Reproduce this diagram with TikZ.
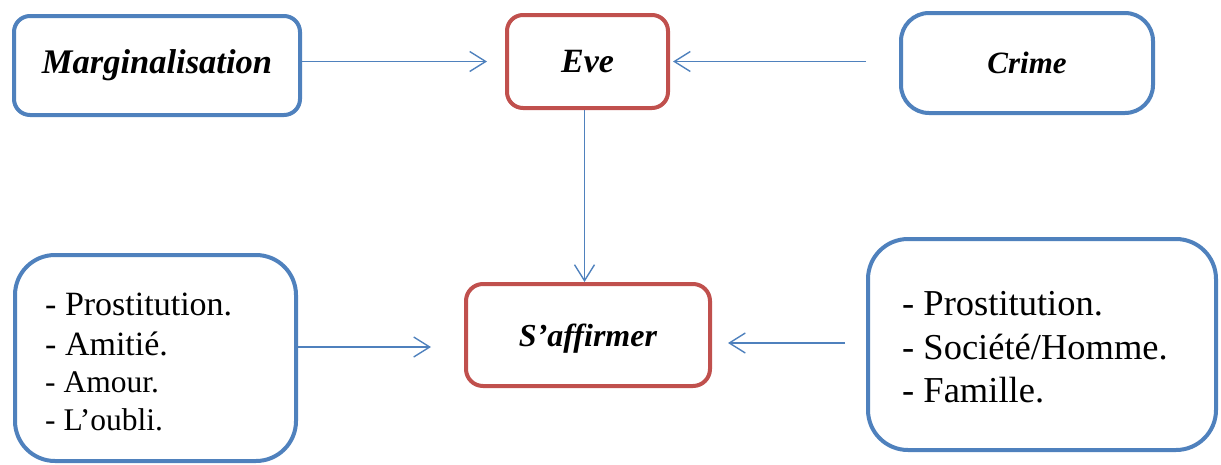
\documentclass[tikz,border=0pt]{standalone}
\usepackage{fontspec}
\setmainfont{Liberation Serif}
\usetikzlibrary{arrows.meta}

\definecolor{boxblue}{HTML}{4F81BD}
\definecolor{boxred}{HTML}{C0504D}

\tikzset{
  box/.style={draw, rectangle, line width=4pt, inner sep=0pt, fill=white},
  bluebox/.style={box, draw=boxblue},
  redbox/.style={box, draw=boxred},
  title/.style={font=\fontsize{#1}{#1}\selectfont\bfseries\itshape},
  item/.style={anchor=base west, inner sep=0pt, font=\fontsize{#1}{#1}\selectfont},
  link/.style={draw=boxblue, line width=1.4pt,
    -{Straight Barb[length=16pt,width=20pt]}},
}

\begin{document}
\begin{tikzpicture}[x=1pt, y=-1pt]
  \useasboundingbox (0,0) rectangle (1221,464);

  % top row
  \node[bluebox, rounded corners=16pt, minimum width=286pt, minimum height=99pt, title=34.5]
    (marg) at (157,65.5) {Marginalisation};
  \node[redbox, rounded corners=16pt, minimum width=161pt, minimum height=93pt, title=34]
    (eve) at (587.5,61.5) {Eve};
  \node[bluebox, rounded corners=28pt, minimum width=252pt, minimum height=100pt, title=31]
    (crime) at (1027,63) {Crime};

  % bottom row
  \node[bluebox, rounded corners=40pt, minimum width=281pt, minimum height=206pt]
    (lbox) at (155.5,358) {};
  \node[redbox, rounded corners=17pt, minimum width=244pt, minimum height=102pt, title=32,
        text depth=0pt]
    (saff) at (588,335) {S’affirmer};
  \node[bluebox, rounded corners=40pt, minimum width=348pt, minimum height=211pt]
    (rbox) at (1042,344.5) {};

  % list in the left box
  \node[item=34] (l1) at (45,315) {- Prostitution.};
  \node[item=34] (l2) at (45,355) {- Amitié.};
  \node[item=31.5] (l3) at (45,392) {- Amour.};
  \node[item=31.5] (l4) at (45,430) {- L’oubli.};

  % list in the right box
  \node[item=36.5] (r1) at (902,315) {- Prostitution.};
  \node[item=36.5] (r2) at (902,359) {- Société/Homme.};
  \node[item=36.5] (r3) at (902,402) {- Famille.};

  % connectors
  \draw[link, shorten >=18pt] (marg.east |- eve.west) -- (eve.west);
  \draw[link, shorten <=33pt, shorten >=3pt] (crime.west |- eve.east) -- (eve.east);
  \draw[link] ([xshift=-3pt]eve.south) -- ([xshift=-3pt]eve.south |- saff.north);
  \draw[link, shorten >=33pt] ([yshift=11pt]lbox.east) -- ([yshift=11pt]lbox.east -| saff.west);
  \draw[link, shorten <=21pt, shorten >=16pt] ([yshift=1.5pt]rbox.west) -- ([yshift=1.5pt]rbox.west -| saff.east);
\end{tikzpicture}
\end{document}
